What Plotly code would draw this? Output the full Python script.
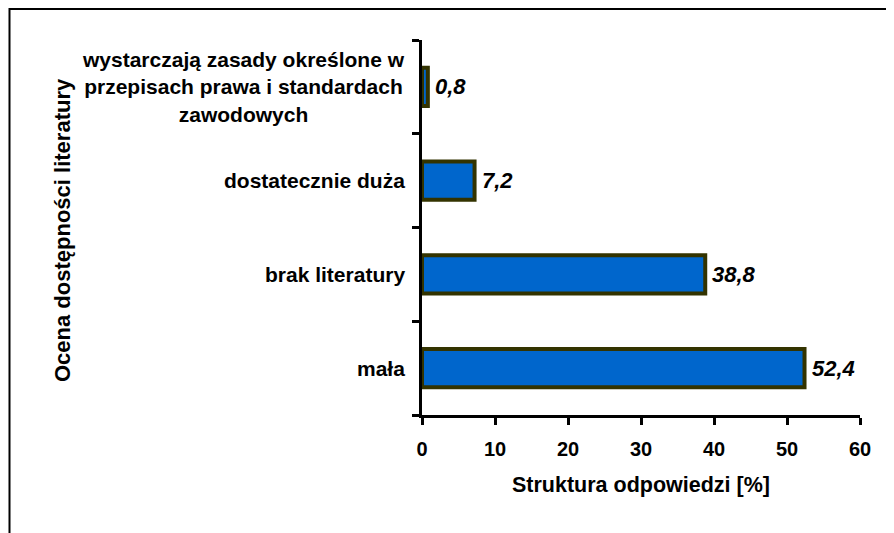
import plotly.graph_objects as go

categories = [
    "mała",
    "brak literatury",
    "dostatecznie duża",
    "wystarczają zasady określone w<br>przepisach prawa i standardach<br>zawodowych",
]
values = [52.4, 38.8, 7.2, 0.8]
x_ticks = [0, 10, 20, 30, 40, 50, 60]
x_title = "Struktura odpowiedzi [%]"
y_title = "Ocena dostępności literatury"

FONT = "Liberation Sans, Arial, sans-serif"
W, H = 886, 525
L, R, T, B = 414, 34, 32, 118
pw, ph = W - L - R, H - T - B

fig = go.Figure()
fig.add_trace(go.Bar(
    x=values,
    y=list(range(len(categories))),
    orientation="h",
    width=0.41,
    marker=dict(color="#0066CC", line=dict(color="#333300", width=4)),
    hoverinfo="skip",
))

annotations = []
for i, (c, v) in enumerate(zip(categories, values)):
    annotations.append(dict(
        x=0, y=i, xref="x", yref="y", text=f"<b>{c}</b>",
        xanchor="right", yanchor="middle", align="center", xshift=-15,
        showarrow=False, font=dict(family=FONT, size=21, color="black"),
    ))
    lab = f"{v:.1f}".replace(".", ",")
    annotations.append(dict(
        x=v, y=i, xref="x", yref="y", text=f"<b><i>{lab}</i></b>",
        xanchor="left", yanchor="middle", xshift=5,
        showarrow=False, font=dict(family=FONT, size=22, color="black"),
    ))

annotations.append(dict(
    x=(55 - L) / pw, y=(T + ph - 222) / ph, xref="paper", yref="paper", text=f"<b>{y_title}</b>",
    textangle=-90, xanchor="center", yanchor="middle", showarrow=False,
    font=dict(family=FONT, size=22, color="black"),
))
annotations.append(dict(
    x=0.5, y=(T + ph - 477) / ph, xref="paper", yref="paper", text=f"<b>{x_title}</b>",
    xanchor="center", yanchor="middle", showarrow=False,
    font=dict(family=FONT, size=21.5, color="black"),
))

fig.update_layout(
    width=W, height=H,
    margin=dict(l=L, r=R, t=T, b=B, pad=0),
    paper_bgcolor="white", plot_bgcolor="white",
    showlegend=False,
    annotations=annotations,
    shapes=[dict(
        type="rect", xref="paper", yref="paper",
        x0=(1.5 - L) / pw, x1=(905 - L) / pw,
        y0=(T + ph - 545) / ph, y1=(T + ph - 1) / ph,
        line=dict(color="black", width=2), fillcolor="rgba(0,0,0,0)",
    )],
    xaxis=dict(
        range=[0, 60], tickvals=x_ticks, ticktext=[f"<b>{t}</b>" for t in x_ticks],
        showline=True, linecolor="black", linewidth=3,
        ticks="outside", ticklen=7, tickwidth=3, tickcolor="black",
        ticklabelstandoff=7,
        showgrid=False, zeroline=False,
        tickfont=dict(family=FONT, size=20, color="black"),
    ),
    yaxis=dict(
        range=[-0.5, 3.5], type="linear",
        tickvals=[-0.5, 0.5, 1.5, 2.5, 3.5], showticklabels=False,
        showline=True, linecolor="black", linewidth=3,
        ticks="outside", ticklen=7, tickwidth=3, tickcolor="black",
        showgrid=False, zeroline=False,
    ),
)

fig.write_html("out.html")
